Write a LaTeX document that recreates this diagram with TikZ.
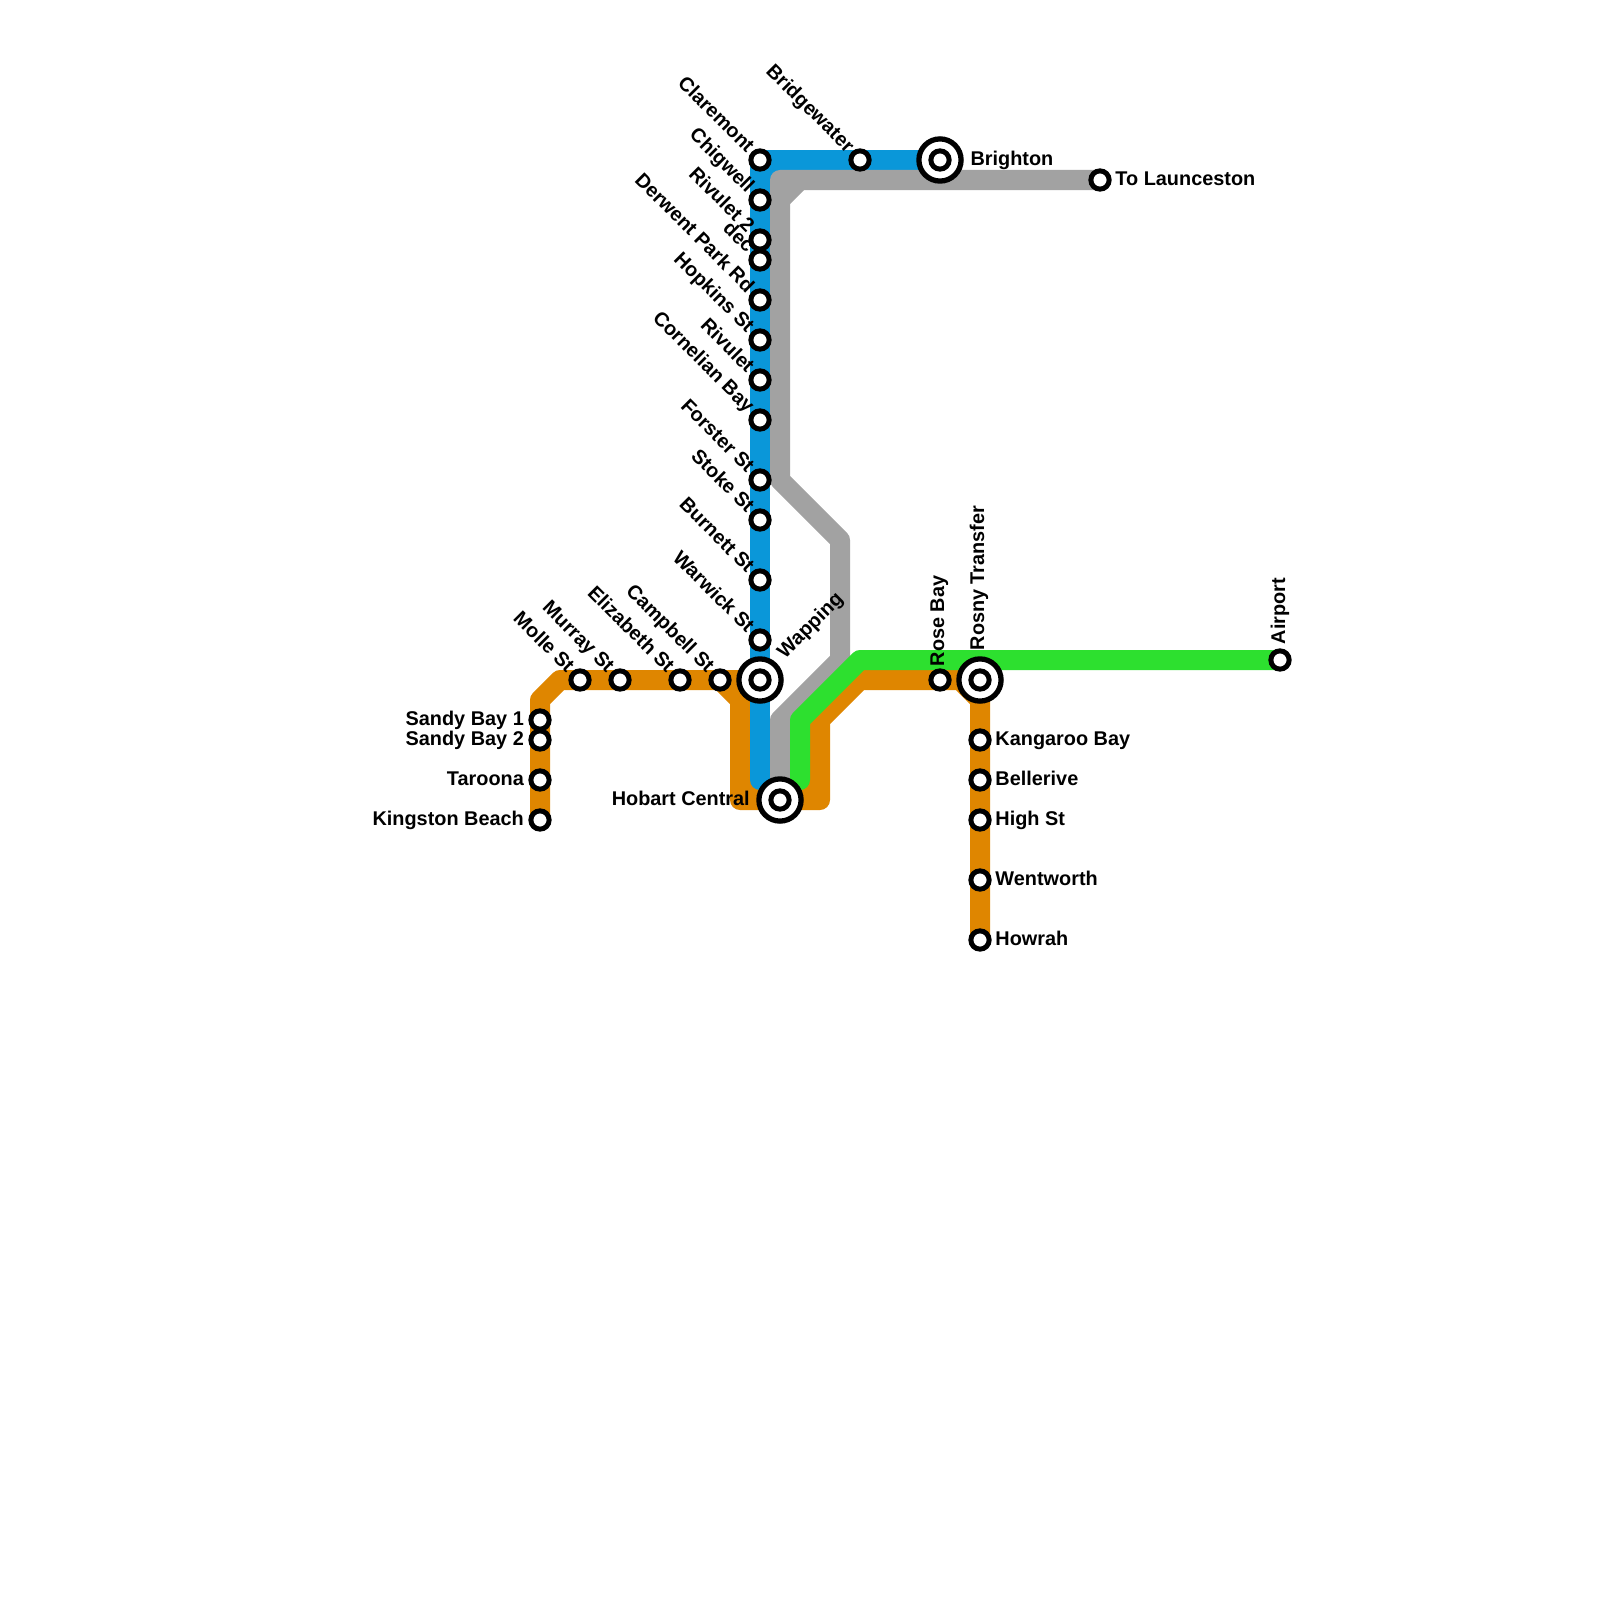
\documentclass[tikz,border=0pt]{standalone}
\usepackage{fontspec}
\setmainfont{Liberation Sans}
\definecolor{lineblue}{HTML}{0A97D9}
\definecolor{linegrey}{HTML}{A2A2A2}
\definecolor{linegreen}{HTML}{2DE02F}
\definecolor{lineorange}{HTML}{DF8600}
\tikzset{
  rail/.style={line width=5.69pt, line join=round},
  stn/.style={circle, draw=black, fill=white, line width=1.42pt, minimum size=5.2pt, inner sep=0pt},
  hub/.style={circle, draw=black, fill=white, line width=1.5pt, minimum size=12pt, inner sep=0pt},
  tag/.style={font=\bfseries\fontsize{5.65pt}{6pt}\selectfont, inner sep=0pt, text=black, text height=4.15pt, text depth=1.2pt},
  tagL/.style={tag, anchor=east, xshift=-4.4pt},
  tagR/.style={tag, anchor=west, xshift=4.2pt},
  tagU/.style={tag, anchor=west, rotate=90},
  tagD/.style={shift={(-9.5,-9.5)}, tag, anchor=east, rotate=-45},
}
\begin{document}
\begin{tikzpicture}[x=.01cm, y=-.01cm]
  \useasboundingbox (0,0) rectangle (1600,1600);
  \coordinate (Clm) at (760,160);
  \coordinate (Chg) at (760,200);
  \coordinate (RivB) at (760,240);
  \coordinate (Dec) at (760,260);
  \coordinate (Dpr) at (760,300);
  \coordinate (Hop) at (760,340);
  \coordinate (Riv) at (760,380);
  \coordinate (Crn) at (760,420);
  \coordinate (For) at (760,480);
  \coordinate (Stk) at (760,520);
  \coordinate (Brn) at (760,580);
  \coordinate (War) at (760,640);
  \coordinate (Wap) at (760,680);
  \coordinate (Brd) at (860,160);
  \coordinate (Bri) at (940,160);
  \coordinate (Lau) at (1100,180);
  \coordinate (Hob) at (780,800);
  \coordinate (Mol) at (580,680);
  \coordinate (Mur) at (620,680);
  \coordinate (Eli) at (680,680);
  \coordinate (Cam) at (720,680);
  \coordinate (SbA) at (540,720);
  \coordinate (SbB) at (540,740);
  \coordinate (Tar) at (540,780);
  \coordinate (Kin) at (540,820);
  \coordinate (Ros) at (940,680);
  \coordinate (Rny) at (980,680);
  \coordinate (Air) at (1280,660);
  \coordinate (Kan) at (980,740);
  \coordinate (Bel) at (980,780);
  \coordinate (Hig) at (980,820);
  \coordinate (Wen) at (980,880);
  \coordinate (How) at (980,940);

  % lines
  \draw[rail, lineorange] (Kin)--(540,700)--(560,680)--(Cam)--(740,700)--(740,800)--(820,800)--(820,720)--(860,680)--(960,680)--(980,700)--(How);
  \draw[rail, lineorange] (Cam)--(Wap) (740,790)--(820,790);
  \draw[rail, lineblue] (Bri)--(Clm)--(760,780)--(780,780);
  \draw[rail, lineblue] (760,170)--(780,170);
  \draw[rail, linegrey] (Lau)--(780,180)--(780,480)--(840,540)--(840,660)--(780,720)--(Hob);
  \draw[rail, linegrey] (800,180)--(780,200);
  \draw[rail, linegreen] (Air)--(860,660)--(800,720)--(800,780)--(790,780);

  % stations
  \node[stn] (nClm) at (Clm) {};
  \node[stn] (nChg) at (Chg) {};
  \node[stn] (nRivB) at (RivB) {};
  \node[stn] (nDec) at (Dec) {};
  \node[stn] (nDpr) at (Dpr) {};
  \node[stn] (nHop) at (Hop) {};
  \node[stn] (nRiv) at (Riv) {};
  \node[stn] (nCrn) at (Crn) {};
  \node[stn] (nFor) at (For) {};
  \node[stn] (nStk) at (Stk) {};
  \node[stn] (nBrn) at (Brn) {};
  \node[stn] (nWar) at (War) {};
  \node[stn] (nBrd) at (Brd) {};
  \node[stn] (nLau) at (Lau) {};
  \node[stn] (nMol) at (Mol) {};
  \node[stn] (nMur) at (Mur) {};
  \node[stn] (nEli) at (Eli) {};
  \node[stn] (nCam) at (Cam) {};
  \node[stn] (nSbA) at (SbA) {};
  \node[stn] (nSbB) at (SbB) {};
  \node[stn] (nTar) at (Tar) {};
  \node[stn] (nKin) at (Kin) {};
  \node[stn] (nRos) at (Ros) {};
  \node[stn] (nAir) at (Air) {};
  \node[stn] (nKan) at (Kan) {};
  \node[stn] (nBel) at (Bel) {};
  \node[stn] (nHig) at (Hig) {};
  \node[stn] (nWen) at (Wen) {};
  \node[stn] (nHow) at (How) {};

  \node[hub] (hWap) at (Wap) {};
  \node[stn] (iWap) at (Wap) {};
  \node[hub] (hBri) at (Bri) {};
  \node[stn] (iBri) at (Bri) {};
  \node[hub] (hHob) at (Hob) {};
  \node[stn] (iHob) at (Hob) {};
  \node[hub] (hRny) at (Rny) {};
  \node[stn] (iRny) at (Rny) {};

  % labels
  \node[tagD] (tClm) at (Clm) {Claremont};
  \node[tagD] (tChg) at (Chg) {Chigwell};
  \node[tagD] (tRivB) at (RivB) {Rivulet 2};
  \node[tagD] (tDec) at (Dec) {dec};
  \node[tagD] (tDpr) at (Dpr) {Derwent Park Rd};
  \node[tagD] (tHop) at (Hop) {Hopkins St};
  \node[tagD] (tRiv) at (Riv) {Rivulet};
  \node[tagD] (tCrn) at (Crn) {Cornelian Bay};
  \node[tagD] (tFor) at (For) {Forster St};
  \node[tagD] (tStk) at (Stk) {Stoke St};
  \node[tagD] (tBrn) at (Brn) {Burnett St};
  \node[tagD] (tWar) at (War) {Warwick St};
  \node[tagD] (tBrd) at (Brd) {Bridgewater};
  \node[tagD] (tMol) at (Mol) {Molle St};
  \node[tagD] (tMur) at (Mur) {Murray St};
  \node[tagD] (tEli) at (Eli) {Elizabeth St};
  \node[tagD] (tCam) at (Cam) {Campbell St};
  \node[shift={(21,-24)}, tag, anchor=west, rotate=45] (tWap) at (Wap) {Wapping};
  \node[tagR, xshift=4.3pt] (tBri) at (Bri) {Brighton};
  \node[tagR] (tLau) at (Lau) {To Launceston};
  \node[tagL, xshift=-4pt] (tHob) at (Hob) {Hobart Central};
  \node[tagL] (tSbA) at (SbA) {Sandy Bay 1};
  \node[tagL] (tSbB) at (SbB) {Sandy Bay 2};
  \node[tagL] (tTar) at (Tar) {Taroona};
  \node[tagL] (tKin) at (Kin) {Kingston Beach};
  \node[shift={(-1,-13)}, tagU] (tRos) at (Ros) {Rose Bay};
  \node[shift={(-1,-29)}, tagU] (tRny) at (Rny) {Rosny Transfer};
  \node[shift={(0,-15)}, tagU] (tAir) at (Air) {Airport};
  \node[tagR] (tKan) at (Kan) {Kangaroo Bay};
  \node[tagR] (tBel) at (Bel) {Bellerive};
  \node[tagR] (tHig) at (Hig) {High St};
  \node[tagR] (tWen) at (Wen) {Wentworth};
  \node[tagR] (tHow) at (How) {Howrah};
\end{tikzpicture}
\end{document}
